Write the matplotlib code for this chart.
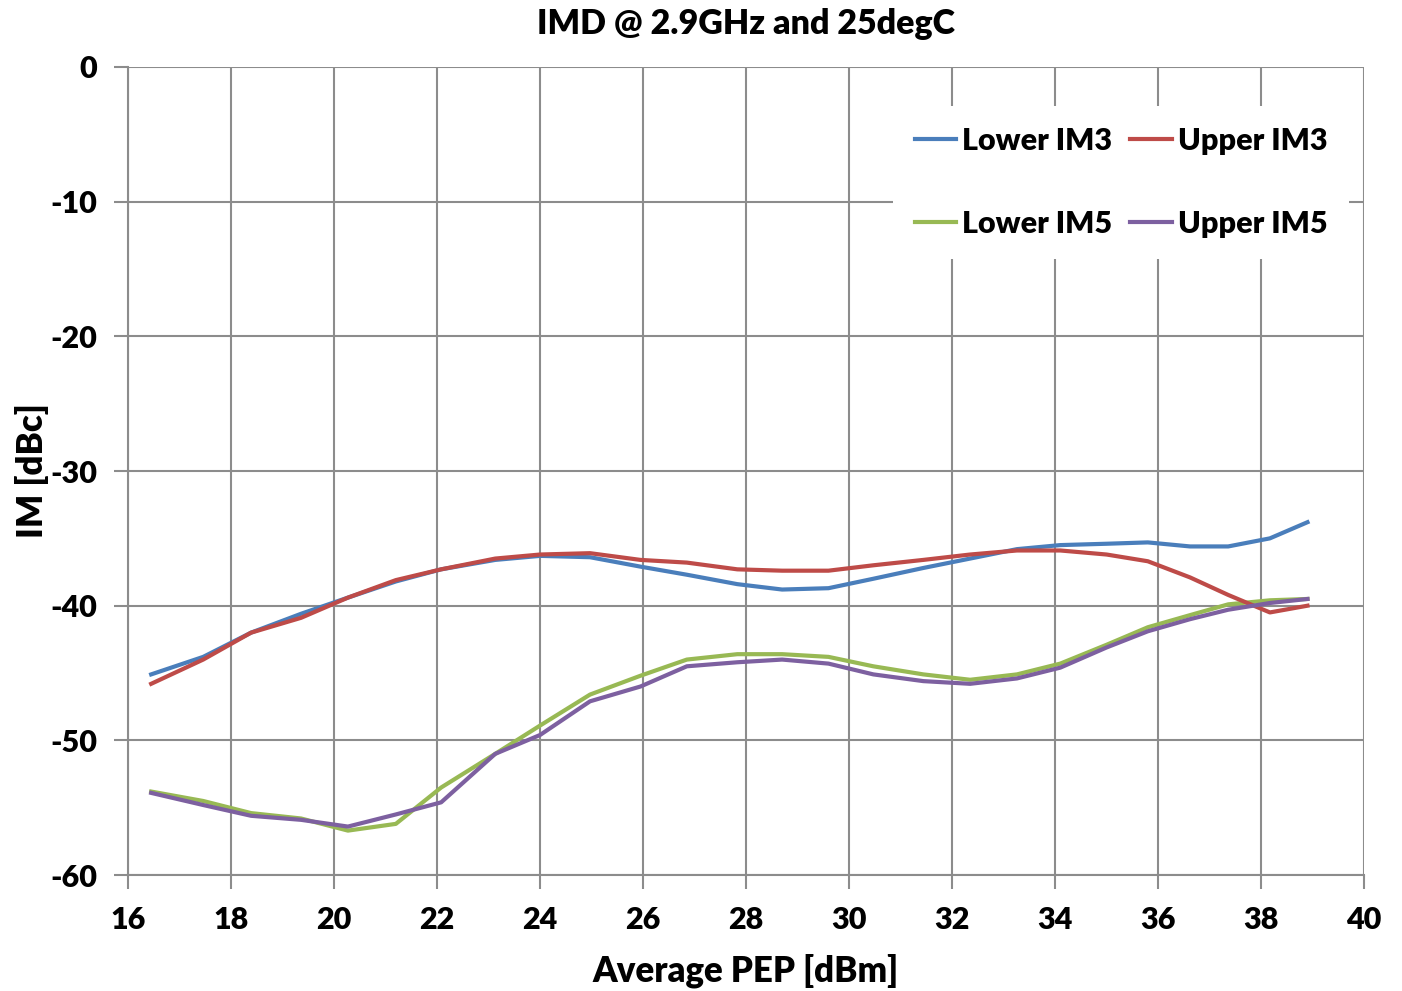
import numpy as np
import matplotlib
matplotlib.use("Agg")
import matplotlib.pyplot as plt

# Average PEP [dBm] sweep points
pep = [16.45, 17.46, 18.39, 19.36, 20.27, 21.2, 22.08, 23.13, 24.0, 24.97,
       25.95, 26.85, 27.83, 28.7, 29.6, 30.47, 31.44, 32.35, 33.26, 34.1,
       35.0, 35.8, 36.62, 37.36, 38.17, 38.9]

lower_im3 = [-45.1, -43.8, -42.0, -40.6, -39.4, -38.2, -37.3, -36.6, -36.3, -36.4,
             -37.1, -37.7, -38.4, -38.8, -38.7, -38.0, -37.2, -36.5, -35.8, -35.5,
             -35.4, -35.3, -35.6, -35.6, -35.0, -33.8]
upper_im3 = [-45.8, -44.0, -42.0, -40.9, -39.4, -38.1, -37.3, -36.5, -36.2, -36.1,
             -36.6, -36.8, -37.3, -37.4, -37.4, -37.0, -36.6, -36.2, -35.9, -35.9,
             -36.2, -36.7, -37.9, -39.2, -40.5, -40.0]
lower_im5 = [-53.8, -54.5, -55.4, -55.8, -56.7, -56.2, -53.5, -51.0, -48.9, -46.6,
             -45.2, -44.0, -43.6, -43.6, -43.8, -44.5, -45.1, -45.5, -45.1, -44.3,
             -42.9, -41.6, -40.7, -39.9, -39.6, -39.5]
upper_im5 = [-53.9, -54.8, -55.6, -55.9, -56.4, -55.5, -54.6, -51.0, -49.6, -47.1,
             -46.0, -44.5, -44.2, -44.0, -44.3, -45.1, -45.6, -45.8, -45.4, -44.6,
             -43.1, -41.9, -41.0, -40.3, -39.8, -39.5]

xticks = np.arange(16, 41, 2)
yticks = np.arange(-60, 1, 10)

plt.rcParams['font.family'] = ['Lato', 'DejaVu Sans']
plt.rcParams['font.weight'] = 'heavy'
plt.rcParams['axes.unicode_minus'] = False

fig = plt.figure(figsize=(14.02, 9.91), dpi=100)
ax = fig.add_axes([0.0913, 0.117, 0.8817, 0.8154])

ax.plot(pep, lower_im3, color='#4a7ebb', lw=3.0, label='Lower IM3')
ax.plot(pep, lower_im5, color='#98b954', lw=3.0, label='Lower IM5')
ax.plot(pep, upper_im3, color='#be4b48', lw=3.0, label='Upper IM3')
ax.plot(pep, upper_im5, color='#7d60a0', lw=3.0, label='Upper IM5')

ax.set_xlim(16, 40)
ax.set_ylim(-60, 0)
ax.set_xticks(xticks)
ax.set_yticks(yticks)
ax.grid(True, color='#8c8c8c', lw=1.5)
ax.set_axisbelow(True)
for s in ['top', 'right']:
    ax.spines[s].set_visible(False)
for s in ['left', 'bottom']:
    ax.spines[s].set_color('#8c8c8c')
    ax.spines[s].set_linewidth(1.5)
ax.tick_params(direction='out', length=10, width=1.5, color='#8c8c8c',
               labelsize=22, pad=12)
for lab in ax.get_xticklabels() + ax.get_yticklabels():
    lab.set_fontweight('heavy')

ax.set_title('IMD @ 2.9GHz and 25degC', fontsize=24.5, fontweight='heavy', pad=24)
ax.set_xlabel('Average PEP [dBm]', fontsize=25, fontweight='heavy', labelpad=14)
ax.set_ylabel('IM [dBc]', fontsize=25, fontweight='heavy', labelpad=1)

# legend: 2 columns, white box over the grid
leg = ax.legend(ncol=2, loc='upper right', bbox_to_anchor=(1.0, 0.971),
                prop={'size': 22, 'weight': 'heavy'}, frameon=True,
                fancybox=False, edgecolor='none', framealpha=1,
                handlelength=1.35, handletextpad=0.2, columnspacing=0.6,
                labelspacing=1.8, borderpad=0.7)

fig.savefig('out.png', dpi=100)
